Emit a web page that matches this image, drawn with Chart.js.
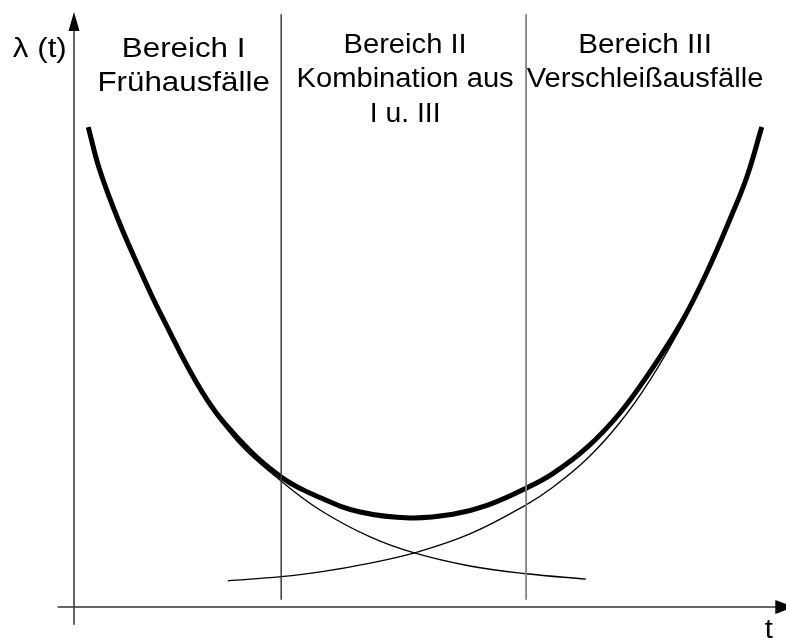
<!DOCTYPE html>
<html>
<head>
<meta charset="utf-8">
<script src="https://cdn.jsdelivr.net/npm/chart.js@4/dist/chart.umd.min.js"></script>
<style>
html,body{margin:0;padding:0;background:#fff;}
#wrap{width:786px;height:640px;}
</style>
</head>
<body>
<div id="wrap"><canvas id="c" width="786" height="640"></canvas></div>
<script>
// Time axis t (0..100 = full axis), failure rate lambda (0..100 = full axis)
const tTotal      = [2.0, 3.6, 6.2, 9.4, 12.4, 18.1, 22.9, 29.1, 34.6, 40.2, 47.2, 53.2, 58.0, 63.5, 67.3, 72.1, 76.7, 80.9, 85.4, 88.9, 92.1, 94.5, 96.6];
const lamTotal    = [80.8, 73.6, 65.2, 56.4, 48.8, 36.0, 28.6, 21.9, 18.4, 16.0, 15.0, 15.6, 17.1, 20.0, 22.5, 26.9, 32.7, 39.6, 48.1, 56.4, 65.2, 72.4, 80.8];

const tEarly      = [2.0, 3.6, 6.2, 9.4, 12.4, 18.1, 22.9, 29.1, 34.6, 41.6, 47.8, 55.6, 63.5, 71.9];
const lamEarly    = [80.8, 73.6, 65.2, 56.4, 48.8, 36.0, 27.9, 21.2, 16.3, 11.8, 9.1, 6.9, 5.6, 4.7];

const tWear       = [21.6, 29.1, 34.6, 41.6, 47.8, 55.6, 63.5, 67.3, 72.1, 76.7, 80.9, 85.4, 88.9, 92.1, 94.5, 96.6];
const lamWear     = [4.4, 5.1, 5.9, 7.4, 9.1, 12.3, 17.2, 20.2, 25.0, 31.1, 38.2, 47.5, 56.2, 65.0, 72.6, 80.8];

const boundaries  = [29.1, 63.5];
const regionTitles = [
  ["Bereich I", "Frühausfälle"],
  ["Bereich II", "Kombination aus", "I u. III"],
  ["Bereich III", "Verschleißausfälle"]
];
const axisLabelY = "λ (t)";
const axisLabelX = "t";

const pts = (xs, ys) => xs.map((x, i) => ({x: x, y: ys[i]}));

const FONT = '"Liberation Sans", Arial, Helvetica, sans-serif';

const decor = {
  id: 'decor',
  afterDatasetsDraw(chart) {
    const ctx = chart.ctx;
    const xs = chart.scales.x, ys = chart.scales.y;
    const X = v => xs.getPixelForValue(v), Y = v => ys.getPixelForValue(v);
    ctx.save();
    // arrow heads
    ctx.fillStyle = '#000';
    const ax = X(0), ayTip = Y(100) - 1;
    ctx.beginPath();
    ctx.moveTo(ax, ayTip);
    ctx.lineTo(ax - 5.5, ayTip + 19);
    ctx.lineTo(ax + 5.5, ayTip + 19);
    ctx.closePath(); ctx.fill();
    const by = Y(0), bxBase = X(98.5);
    ctx.beginPath();
    ctx.moveTo(bxBase + 19, by);
    ctx.lineTo(bxBase, by - 7);
    ctx.lineTo(bxBase, by + 7);
    ctx.closePath(); ctx.fill();
    // texts
    ctx.fillStyle = '#000';
    ctx.font = '27px ' + FONT;
    ctx.textAlign = 'center';
    ctx.textBaseline = 'alphabetic';
    const draw = (txt, t, v, sx) => {
      ctx.save();
      ctx.translate(X(t), Y(v));
      ctx.scale(sx, 1);
      ctx.fillText(txt, 0, 0);
      ctx.restore();
    };
    const colT = [15.4, 46.5, 80.2];
    const colV = [[92.6, 86.8], [93.2, 87.5, 81.7], [93.2, 87.5]];
    const colS = [[1.16, 1.16], [1.08, 1.08, 1.05], [1.1, 1.08]];
    regionTitles.forEach((lines, ci) => {
      lines.forEach((ln, li) => draw(ln, colT[ci], colV[ci][li], colS[ci][li]));
    });
    draw(axisLabelY, -4.8, 92.6, 1.16);
    draw(axisLabelX, 97.6, -5.3, 1.08);
    ctx.restore();
  }
};

const curve = { showLine: true, borderColor: '#000', pointRadius: 0, tension: 0.4, clip: false };

new Chart(document.getElementById('c'), {
  type: 'scatter',
  data: {
    datasets: [
      { data: pts([0, 0], [-3.0, 99]), showLine: true, borderColor: '#333', borderWidth: 1.5, pointRadius: 0, clip: false },
      { data: pts([-2.3, 99], [0, 0]), showLine: true, borderColor: '#333', borderWidth: 1.5, pointRadius: 0, clip: false },
      { data: pts([boundaries[0], boundaries[0]], [1.2, 99.8]), showLine: true, borderColor: '#3a3a3a', borderWidth: 1.5, pointRadius: 0, clip: false },
      { data: pts([boundaries[1], boundaries[1]], [1.2, 99.8]), showLine: true, borderColor: '#808080', borderWidth: 1.8, pointRadius: 0, clip: false },
      Object.assign({ data: pts(tEarly, lamEarly), borderWidth: 1.3 }, curve),
      Object.assign({ data: pts(tWear, lamWear), borderWidth: 1.3 }, curve),
      Object.assign({ data: pts(tTotal, lamTotal), borderWidth: 5, borderCapStyle: 'butt' }, curve)
    ]
  },
  options: {
    responsive: false,
    animation: false,
    layout: { padding: { left: 74, right: 0, top: 13, bottom: 33 } },
    plugins: { legend: { display: false }, tooltip: { enabled: false } },
    scales: {
      x: { type: 'linear', min: 0, max: 100, display: false },
      y: { type: 'linear', min: 0, max: 100, display: false }
    }
  },
  plugins: [decor]
});
</script>
</body>
</html>
